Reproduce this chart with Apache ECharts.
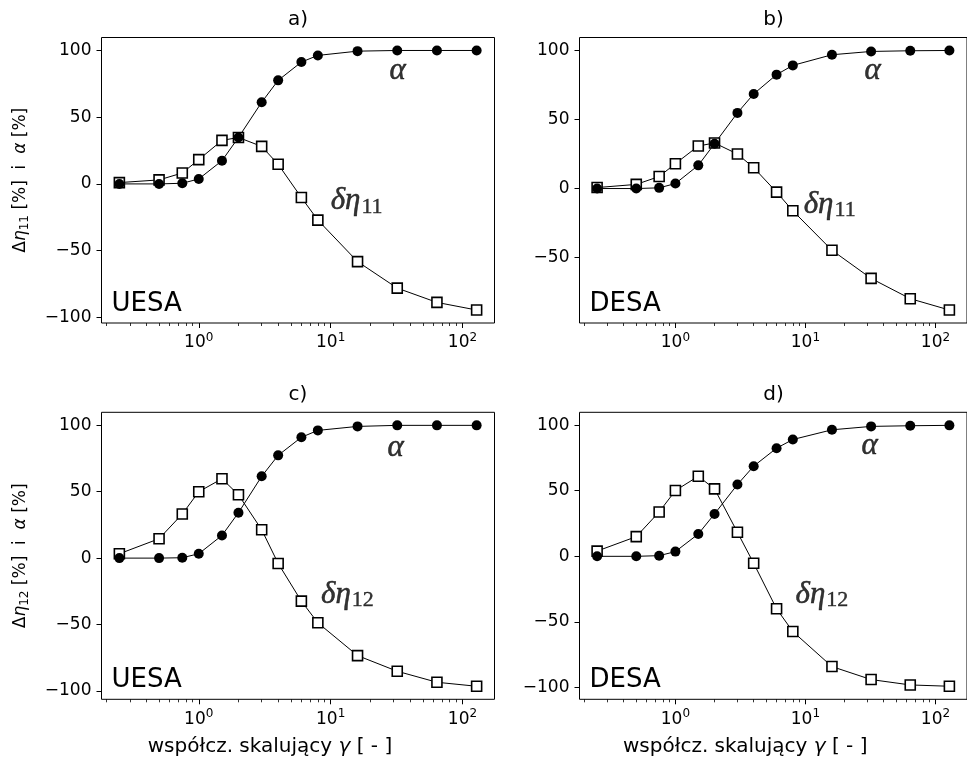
<!DOCTYPE html>
<html><head><meta charset="utf-8">
<script src="https://cdn.jsdelivr.net/npm/echarts@6/dist/echarts.min.js"></script>
<style>html,body{margin:0;padding:0;background:#fff}#c{width:967px;height:760px}</style>
</head><body><div id="c"></div>
<script>
// ---- data ----
const gamma = [0.25, 0.5, 0.75, 1, 1.5, 2, 3, 4, 6, 8, 16, 32, 64, 128];
const alphaA = [0, 0, 0.5, 3.7, 17.4, 34.8, 61.2, 77.6, 91.3, 96.3, 99.5, 100, 100, 100];
const deltaA = [1, 3, 8.2, 18.2, 32.6, 34.8, 28.1, 14.7, -10.2, -27.1, -58.2, -78.1, -88.8, -94.5];
const alphaB = [0, 0, 0.5, 3.6, 16.8, 32.5, 54.8, 68.5, 82.5, 89.2, 96.9, 99.3, 99.8, 100];
const deltaB = [0.7, 3, 8.7, 18, 30.8, 33, 25, 15.1, -2.6, -16.1, -44.7, -65.1, -79.8, -88];
const alphaC = [0, 0, 0.3, 3.3, 17.1, 34.2, 61.6, 77.4, 91, 96.2, 99.2, 100, 100, 100];
const deltaC = [3.3, 14.6, 33.2, 50, 59.8, 47.7, 21.4, -4, -32.4, -48.7, -73.4, -85.2, -93.5, -96.5];
const alphaD = [0, 0, 0.5, 3.6, 17, 32.3, 54.7, 68.7, 82.4, 89, 96.4, 99, 99.5, 99.8];
const deltaD = [4, 15, 33.8, 50.1, 61, 51.4, 18.3, -5.3, -40, -57.3, -84, -93.9, -98, -99];

const panelTitles = ['a)', 'b)', 'c)', 'd)'];
const methodLabels = ['UESA', 'DESA', 'UESA', 'DESA'];
const deltaNames = ['11', '11', '12', '12'];
const xMajorTicks = [1, 10, 100];
const xMinorTicks = [0.2, 0.3, 0.4, 0.5, 0.6, 0.7, 0.8, 0.9, 2, 3, 4, 5, 6, 7, 8, 9, 20, 30, 40, 50, 60, 70, 80, 90];
const yTicks = [-100, -50, 0, 50, 100];
const xLabelText = 'współcz. skalujący {i|γ} [ - ]';
// annotation anchor points (data coords)
const alphaLabelAt = [[28, 85], [28.5, 85], [27, 83], [27, 84]];
const deltaLabelAt = [[10, -13], [9.7, -11.5], [8.46, -27.4], [8.4, -29]];

// ---- layout ----
const grids = [
  {left: 101.5, top: 37.5, width: 393, height: 285.5},
  {left: 579.5, top: 37.5, width: 393, height: 285.5},
  {left: 101.5, top: 412.3, width: 393, height: 287},
  {left: 579.5, top: 412.3, width: 393, height: 287}
];
const alphas = [alphaA, alphaB, alphaC, alphaD];
const deltas = [deltaA, deltaB, deltaC, deltaD];

const FONT = 'DejaVu Sans';
const lg0 = Math.log10(gamma[0]), lg1 = Math.log10(gamma[gamma.length - 1]);
const lspan = lg1 - lg0;
const xMin = Math.pow(10, lg0 - 0.05 * lspan), xMax = Math.pow(10, lg1 + 0.05 * lspan);
const fmtY = v => (v < 0 ? '\u2212' + Math.abs(v) : String(v));

const chart = echarts.init(document.getElementById('c'), null, {renderer: 'canvas'});
const option = {
  animation: false,
  backgroundColor: '#fff',
  textStyle: {fontFamily: FONT},
  title: [], grid: [], xAxis: [], yAxis: [], series: [], graphic: []
};

grids.forEach((g, i) => {
  option.grid.push(Object.assign({show: true, borderColor: '#000', borderWidth: 1, backgroundColor: 'transparent', containLabel: false}, g));
  const all = alphas[i].concat(deltas[i]);
  const lo = Math.min(...all), hi = Math.max(...all), sp = hi - lo;
  const isBottom = i >= 2;
  option.xAxis.push({
    type: 'log', logBase: 10, gridIndex: i, min: xMin, max: xMax, position: 'bottom',
    axisLine: {show: false, onZero: false},
    splitLine: {show: false},
    axisTick: {show: true, customValues: xMajorTicks, length: 5, lineStyle: {color: '#000', width: 1}},
    axisLabel: {
      show: true, customValues: xMajorTicks, margin: 9, color: '#000',
      fontFamily: FONT, fontSize: 17,
      formatter: v => '10{sup|' + Math.round(Math.log10(v)) + '}',
      rich: {sup: {fontSize: 12, fontFamily: FONT, color: '#000', padding: [0, 0, 10, 0]}}
    },
    name: isBottom ? xLabelText : '',
    nameLocation: 'middle', nameGap: 37,
    nameTextStyle: {fontFamily: FONT, fontSize: 20, color: '#000', padding: [0, 56, 0, 0],
      rich: {i: {fontFamily: FONT, fontStyle: 'italic', fontSize: 20, color: '#000'}}}
  });
  option.xAxis.push({
    type: 'log', logBase: 10, gridIndex: i, min: xMin, max: xMax, position: 'bottom',
    axisLine: {show: false, onZero: false}, splitLine: {show: false},
    axisTick: {show: true, customValues: xMinorTicks, length: 3, lineStyle: {color: '#000', width: 0.8}},
    axisLabel: {show: false}
  });
  option.yAxis.push({
    type: 'value', gridIndex: i, min: lo - 0.05 * sp, max: hi + 0.05 * sp, position: 'left',
    axisLine: {show: false, onZero: false}, splitLine: {show: false},
    axisTick: {show: true, customValues: yTicks, length: 5, lineStyle: {color: '#000', width: 1}},
    axisLabel: {show: true, customValues: yTicks, margin: 10, color: '#000', fontFamily: FONT, fontSize: 17, formatter: fmtY},
    name: (i % 2 === 0) ? '\u0394{i|\u03b7}{sub|' + deltaNames[i] + '} [%]  i  {i|\u03b1} [%]' : '',
    nameLocation: 'middle', nameRotate: 90, nameGap: 71,
    nameTextStyle: {fontFamily: FONT, fontSize: 17, color: '#000',
      rich: {
        i: {fontFamily: FONT, fontStyle: 'italic', fontSize: 17, color: '#000'},
        sub: {fontFamily: FONT, fontSize: 12, color: '#000', padding: [7, 0, 0, 0]}
      }}
  });
  option.series.push({
    type: 'line', xAxisIndex: 2 * i, yAxisIndex: i,
    data: gamma.map((x, k) => [x, deltas[i][k]]),
    symbol: 'rect', symbolSize: 10, showSymbol: true,
    lineStyle: {color: '#000', width: 1},
    itemStyle: {color: '#fff', borderColor: '#000', borderWidth: 1.6},
    emphasis: {disabled: true}, silent: true
  });
  option.series.push({
    type: 'line', xAxisIndex: 2 * i, yAxisIndex: i,
    data: gamma.map((x, k) => [x, alphas[i][k]]),
    symbol: 'circle', symbolSize: 10, showSymbol: true,
    lineStyle: {color: '#000', width: 1},
    itemStyle: {color: '#000', borderWidth: 0},
    emphasis: {disabled: true}, silent: true
  });
  option.series.push({
    type: 'scatter', xAxisIndex: 2 * i, yAxisIndex: i,
    symbolSize: 0, silent: true,
    data: [
      {value: alphaLabelAt[i], label: {formatter: '{i|\u03b1}'}},
      {value: deltaLabelAt[i], label: {formatter: '{i|\u03b4\u03b7}{s|' + deltaNames[i] + '}'}}
    ],
    label: {
      show: true, position: 'right', distance: 0, color: '#000',
      rich: {
        i: {fontFamily: 'Liberation Serif', fontStyle: 'italic', fontSize: 31, color: '#000', textBorderColor: '#000', textBorderWidth: 0.5},
        s: {fontFamily: 'Liberation Serif', fontSize: 22, color: '#000', textBorderColor: '#000', textBorderWidth: 0.4, padding: [11, 0, 0, 1]}
      }
    }
  });
  option.title.push({
    text: panelTitles[i], left: g.left + g.width / 2 - (i % 2 === 1 ? 2.5 : 0), top: g.top - 28,
    textAlign: 'center', padding: 0,
    textStyle: {fontFamily: FONT, fontSize: 20, fontWeight: 'normal', color: '#000'}
  });
  option.graphic.push({
    type: 'text', x: g.left + 10, y: g.top + g.height - 19,
    style: {text: methodLabels[i], font: '26px "DejaVu Sans"', fill: '#000', align: 'left', verticalAlign: 'middle'},
    silent: true
  });
});

chart.setOption(option);
</script>
</body></html>
